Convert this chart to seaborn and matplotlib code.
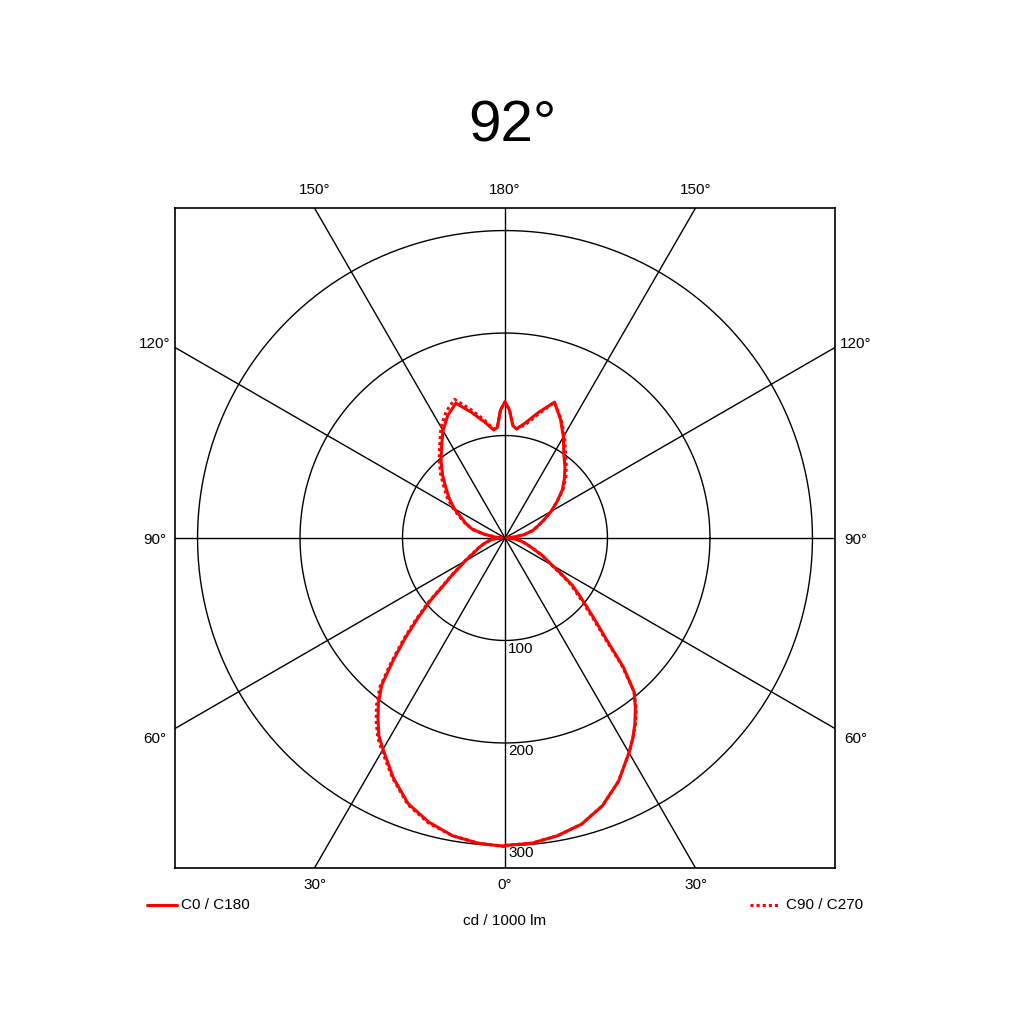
import matplotlib
matplotlib.use('Agg')
import matplotlib.pyplot as plt
import numpy as np
import pandas as pd
import seaborn as sns
from matplotlib.lines import Line2D

# Polar intensity data, cd / 1000 lm, gamma measured from straight down
gamma = [0, 5, 10, 15, 20, 25, 30, 32.5, 35, 37.5, 40, 42.5, 45, 47.5, 50, 52.5, 55, 57.5,
         60, 65, 70, 75, 80, 85, 90, 95, 100, 105, 110, 115, 120, 125, 130, 135, 140,
         145, 150, 155, 160, 165, 170, 174, 176, 178, 180]
c0 = [300, 299, 295, 289, 278, 262, 242, 232, 221, 209, 196, 171, 140, 120, 104, 91, 80, 65,
      53, 40, 28, 21, 15, 9, 2, 8, 19, 28, 34, 42, 52, 62, 73, 82, 91,
      100, 114, 128, 141, 127, 114, 107, 110, 125, 133]
c180 = [301, 299, 295, 287, 276, 258, 238, 229, 216, 203, 187, 161, 137, 115, 95, 75, 63, 52,
        45, 33, 27, 21, 16, 12, 3, 9, 20, 33, 40, 47, 57, 66, 75, 86, 97,
        108, 121, 132, 140, 127, 115, 106, 108, 125, 133]
c90 = [300, 299, 295, 289, 278, 262, 242, 232, 222, 210, 196, 169, 137, 117, 101, 88, 77, 63,
       52, 40, 28, 21, 15, 9, 2, 8, 19, 28, 34, 42, 52, 62, 74, 84, 93,
       103, 116, 129, 141, 125, 112, 107, 110, 125, 133]
c270 = [301, 299, 295, 288, 277, 259, 240, 231, 219, 206, 190, 164, 140, 118, 98, 77, 64, 53,
        46, 34, 27, 21, 16, 12, 3, 9, 20, 33, 41, 49, 59, 69, 78, 89, 100,
        111, 125, 136, 144, 130, 117, 107, 108, 125, 133]

rings = [100, 200, 300]
spokes = [0, 30, 60, 90, 120, 150]
title = '92°'
unit_label = 'cd / 1000 lm'

sns.set_style('white')
plt.rcParams['font.family'] = ['Liberation Sans', 'DejaVu Sans']
plt.rcParams['text.color'] = 'black'

R = 322  # half width of the square frame in cd


def to_xy(right, left):
    # right half goes 0 -> 180, left half comes back 180 -> 0
    g = np.radians(np.array(gamma, dtype=float))
    r1 = np.array(right, dtype=float)
    r2 = np.array(left, dtype=float)
    x = np.concatenate([r1 * np.sin(g), -(r2 * np.sin(g))[::-1]])
    y = np.concatenate([-r1 * np.cos(g), (-r2 * np.cos(g))[::-1]])
    return pd.DataFrame({'x': x, 'y': y})


fig = plt.figure(figsize=(10.24, 10.24), dpi=100)
ax = fig.add_axes([175 / 1024, 156 / 1024, 660 / 1024, 660 / 1024])
ax.set_xlim(-R, R)
ax.set_ylim(-R, R)
ax.set_aspect('equal')
ax.set_xticks([])
ax.set_yticks([])
for s in ax.spines.values():
    s.set_linewidth(1.2)
    s.set_color('black')

# grid circles and spokes
t = np.linspace(0, 2 * np.pi, 400)
for r in rings:
    ax.plot(r * np.cos(t), r * np.sin(t), color='black', lw=1.0, zorder=1)
    ax.text(3, -r - 1, str(r), ha='left', va='top', fontsize=11, zorder=1)
for a in spokes:
    ar = np.radians(a)
    L = 600
    ax.plot([-L * np.sin(ar), L * np.sin(ar)], [L * np.cos(ar), -L * np.cos(ar)],
            color='black', lw=1.0, zorder=1)

# curves
d1 = to_xy(c0, c180)
d2 = to_xy(c90, c270)
sns.lineplot(data=d1, x='x', y='y', sort=False, estimator=None, color='#ff0000',
             lw=2.2, ax=ax, zorder=3)
sns.lineplot(data=d2, x='x', y='y', sort=False, estimator=None, color='#ff0000',
             lw=2.2, ls=(0, (1, 1)), ax=ax, zorder=4)
ax.set_xlabel('')
ax.set_ylabel('')

# angle labels around the frame
off = np.tan(np.radians(30)) * R
fs = 11
ax.text(0, R + 17.5, '180°', ha='center', va='center', fontsize=fs, clip_on=False)
ax.text(-off, R + 17.5, '150°', ha='center', va='center', fontsize=fs, clip_on=False)
ax.text(off, R + 17.5, '150°', ha='center', va='center', fontsize=fs, clip_on=False)
ax.text(0, -R - 17, '0°', ha='center', va='center', fontsize=fs, clip_on=False)
ax.text(-off, -R - 17, '30°', ha='center', va='center', fontsize=fs, clip_on=False)
ax.text(off, -R - 17, '30°', ha='center', va='center', fontsize=fs, clip_on=False)
for sx in (-1, 1):
    xx = sx * (R + 20)
    ax.text(xx, off + 3, '120°', ha='center', va='center', fontsize=fs, clip_on=False)
    ax.text(xx, -2, '90°', ha='center', va='center', fontsize=fs, clip_on=False)
    ax.text(xx, -off - 10, '60°', ha='center', va='center', fontsize=fs, clip_on=False)

# title
fig.text(512 / 1024, 1 - 127 / 1024, title, ha='center', va='center', fontsize=42)

# legend-like labels under the chart
yl = 1 - 905 / 1024
fig.add_artist(Line2D([147 / 1024, 177 / 1024], [yl, yl], color='#ff0000', lw=2.2))
fig.text(181 / 1024, yl, 'C0 / C180', ha='left', va='center', fontsize=fs)
fig.add_artist(Line2D([750 / 1024, 778 / 1024], [yl, yl], color='#ff0000', lw=2.2,
                      ls=(0, (1, 1))))
fig.text(863 / 1024, yl, 'C90 / C270', ha='right', va='center', fontsize=fs)
fig.text(505 / 1024, 1 - 921 / 1024, unit_label, ha='center', va='center', fontsize=fs)

fig.savefig('out.png', dpi=100, facecolor='white')
